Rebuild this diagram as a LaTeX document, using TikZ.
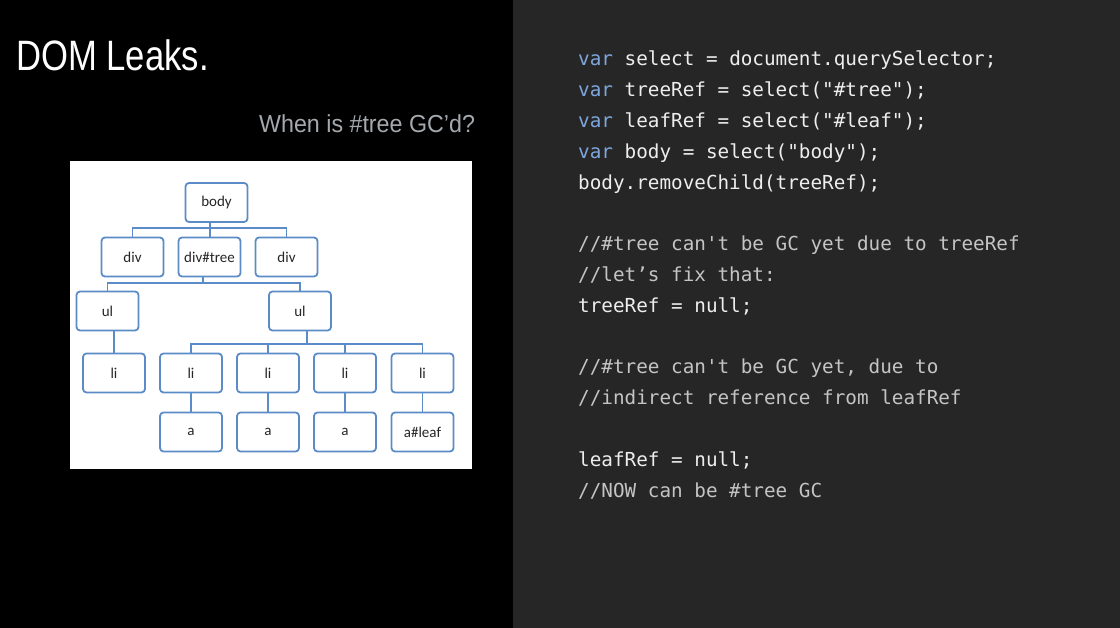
\documentclass[tikz,border=0pt]{standalone}
\usepackage{fontspec}
\setmainfont{Carlito}
\newfontfamily\titlefont{Liberation Sans}
\newfontfamily\codefont[Ligatures=TeXOff]{DejaVu Sans Mono}
\definecolor{panel}{HTML}{262626}
\definecolor{boxblue}{HTML}{5B8CC8}
\definecolor{boxtext}{HTML}{262626}
\definecolor{subgray}{HTML}{A4A9AE}
\definecolor{codetext}{HTML}{EEEEEE}
\definecolor{codekw}{HTML}{7EA6DC}
\definecolor{codecom}{HTML}{C4C4C4}
\tikzset{
  dombox/.style={draw=boxblue, line width=1.8pt, rounded corners=3.5pt, fill=white,
    minimum width=62pt, minimum height=39pt, inner sep=0pt,
    text=boxtext, font=\fontsize{15}{17}\selectfont},
  conn/.style={draw=boxblue, line width=1.5pt},
  codeline/.style={anchor=base west, inner sep=0pt, text=codetext,
    font=\codefont\fontsize{19.3}{22}\selectfont},
  comline/.style={codeline, text=codecom},
}
\newcommand{\kw}[1]{\textcolor{codekw}{#1}}
\begin{document}
\begin{tikzpicture}[x=1pt,y=-1pt]
\useasboundingbox (0,0) rectangle (1120,628);
\fill[black] (0,0) rectangle (513.3,628);
\fill[panel] (513.3,0) rectangle (1120,628);

% titles
\node[anchor=base west, inner sep=0pt, text=white, font=\titlefont\fontsize{42.5}{48}\selectfont] (title) at (16,70.7) {\scalebox{0.815}[1]{DOM Leaks.}};
\node[anchor=base west, inner sep=0pt, text=subgray, font=\titlefont\fontsize{24.6}{28}\selectfont] (subtitle) at (259,133) {\scalebox{0.945}[1]{When is \#tree GC’d?}};

% tree picture
\fill[white] (70,161) rectangle (471.5,469);

\node[dombox] (body) at (216.5,202.5) {body};
\node[dombox] (div1) at (132.5,257) {div};
\node[dombox] (dtree) at (209.5,257) {div\#tree};
\node[dombox] (div3) at (286.5,257) {div};
\node[dombox] (ul1) at (107.5,311) {ul};
\node[dombox] (ul2) at (300,311) {ul};
\node[dombox] (li1) at (114,373) {li};
\node[dombox] (li2) at (191,373) {li};
\node[dombox] (li3) at (268,373) {li};
\node[dombox] (li4) at (345,373) {li};
\node[dombox] (li5) at (422.5,373) {li};
\node[dombox] (a1) at (191,432) {a};
\node[dombox] (a2) at (268,432) {a};
\node[dombox] (a3) at (345,432) {a};
\node[dombox] (a4) at (422.5,432) {a\#leaf};

\coordinate (bus1) at (210,228);
\coordinate (bus2) at (203,283);
\coordinate (bus3) at (307,344);

\draw[conn] (body.south -| bus1) -- (bus1);
\draw[conn] (div1.north) |- (bus1) -| (div3.north);
\draw[conn] (bus1) -- (bus1 |- dtree.north);
\draw[conn] (dtree.south -| bus2) -- (bus2);
\draw[conn] (ul1.north) |- (bus2) -| (ul2.north);
\draw[conn] (ul2.south -| bus3) -- (bus3);
\draw[conn] (li2.north) |- (bus3) -| (li5.north);
\draw[conn] (bus3 -| li3) -- (li3.north);
\draw[conn] (bus3 -| li4) -- (li4.north);
\draw[conn] (li1.north) -- (li1.north |- ul1.south);
\draw[conn] (li2.south) -- (a1.north);
\draw[conn] (li3.south) -- (a2.north);
\draw[conn] (li4.south) -- (a3.north);
\draw[conn] (li5.south) -- (a4.north);

% code
\node[codeline] (c0) at (578,66.0) {\kw{var} select = document.querySelector;};
\node[codeline] (c1) at (578,96.8) {\kw{var} treeRef = select("\#tree");};
\node[codeline] (c2) at (578,127.6) {\kw{var} leafRef = select("\#leaf");};
\node[codeline] (c3) at (578,158.4) {\kw{var} body = select("body");};
\node[codeline] (c4) at (578,189.2) {body.removeChild(treeRef);};
\node[comline] (c6) at (578,250.8) {//\#tree can't be GC yet due to treeRef};
\node[comline] (c7) at (578,281.6) {//let’s fix that:};
\node[codeline] (c8) at (578,312.4) {treeRef = null;};
\node[comline] (c10) at (578,374.0) {//\#tree can't be GC yet, due to};
\node[comline] (c11) at (578,404.8) {//indirect reference from leafRef};
\node[codeline] (c13) at (578,466.4) {leafRef = null;};
\node[comline] (c14) at (578,497.2) {//NOW can be \#tree GC};
\end{tikzpicture}
\end{document}
